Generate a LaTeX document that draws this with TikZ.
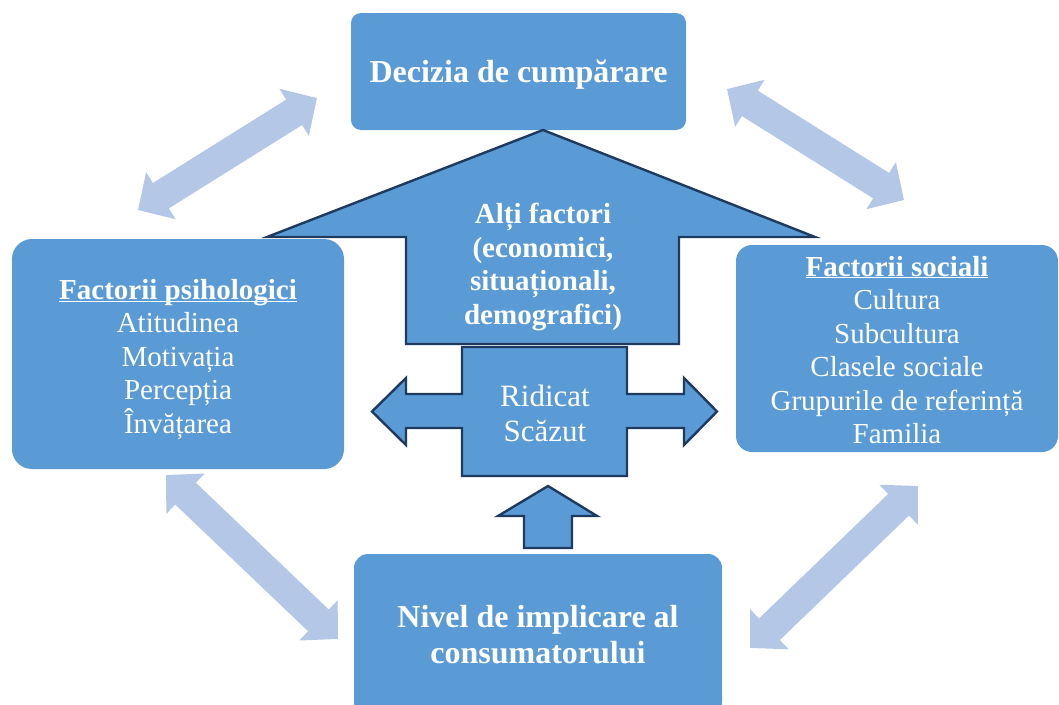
\documentclass[tikz,border=0pt]{standalone}
\usepackage{fontspec}
\setmainfont{Liberation Serif}
\usetikzlibrary{arrows.meta}
\definecolor{boxblue}{HTML}{5B9BD5}
\definecolor{lightarrow}{HTML}{B4C7E7}
\definecolor{darkline}{HTML}{1F3A5F}
\newcommand{\ulbox}[1]{\underline{\vphantom{F}\smash{#1}}}
\begin{document}
\begin{tikzpicture}[x=1pt,y=-1pt,
  box/.style={fill=boxblue, draw=none, inner sep=0pt},
  wtext/.style={text=white, align=center, inner sep=0pt},
  titlefont/.style={font=\fontsize{32}{36}\selectfont\bfseries},
  bodyfont/.style={font=\fontsize{29}{33.5}\selectfont},
  boldbody/.style={font=\fontsize{29}{33.5}\selectfont\bfseries},
  blockarrow/.style={fill=boxblue, draw=darkline, line width=2.4pt, line join=miter},
  link/.style={draw=lightarrow, line width=30pt,
    {Triangle[length=27pt,width=54pt]}-{Triangle[length=27pt,width=54pt]}},
]
\useasboundingbox (0,0) rectangle (1059,704);

% light double arrows (connectors)
\coordinate (tlA) at (138,210);
\coordinate (tlB) at (317,98);
\coordinate (trA) at (727,89);
\coordinate (trB) at (904,200);
\coordinate (blA) at (166,475);
\coordinate (blB) at (338,639);
\coordinate (brA) at (750,648);
\coordinate (brB) at (918,486);
\draw[link] (tlA) -- (tlB);
\draw[link] (trA) -- (trB);
\draw[link] (blA) -- (blB);
\draw[link] (brA) -- (brB);

% boxes
\node[box, rounded corners=10pt, minimum width=335pt, minimum height=117pt] (decizia) at (518.5,71.5) {};
\node[box, rounded corners=20pt, minimum width=332pt, minimum height=230pt] (psiho) at (178,354) {};
\node[box, rounded corners=16pt, minimum width=322pt, minimum height=207pt] (social) at (897,348.5) {};
\node[box, rounded corners=14pt, minimum width=368pt, minimum height=162pt] (nivel) at (538,635) {};

% texts in boxes
\node[wtext, titlefont] (tDecizia) at (518.5,74.5) {Decizia de cumpărare};
\node[wtext, bodyfont] (tPsiho) at (178,360) {\textbf{\ulbox{Factorii psihologici}}\\Atitudinea\\Motivația\\Percepția\\Învățarea};
\node[wtext, bodyfont] (tSocial) at (897,350.5) {\textbf{\ulbox{Factorii sociali}}\\Cultura\\Subcultura\\Clasele sociale\\Grupurile de referință\\Familia};
\node[wtext, titlefont] (tNivel) at (538,635) {Nivel de implicare al\\consumatorului};

% big up arrow
\draw[blockarrow] (543,130) -- (815,237) -- (679,237) -- (679,344) -- (406,344) -- (406,237) -- (267,237) -- cycle;
\node[wtext, boldbody] (tAlti) at (543,267) {Alți factori\\(economici,\\situaționali,\\demografici)};

% left-right arrow with box
\draw[blockarrow] (462,347) -- (627,347) -- (627,394) -- (684,394) -- (684,378) -- (717,411.5)
  -- (684,445) -- (684,428) -- (627,428) -- (627,476) -- (462,476) -- (462,428) -- (406,428)
  -- (406,445) -- (372,411.5) -- (406,378) -- (406,394) -- (462,394) -- cycle;
\node[wtext, font=\fontsize{31}{35}\selectfont] (tNivele) at (545,413) {Ridicat\\Scăzut};

% small up arrow
\draw[blockarrow] (548,486) -- (597,516) -- (572,516) -- (572,548) -- (524,548) -- (524,516) -- (498,516) -- cycle;
\end{tikzpicture}
\end{document}
